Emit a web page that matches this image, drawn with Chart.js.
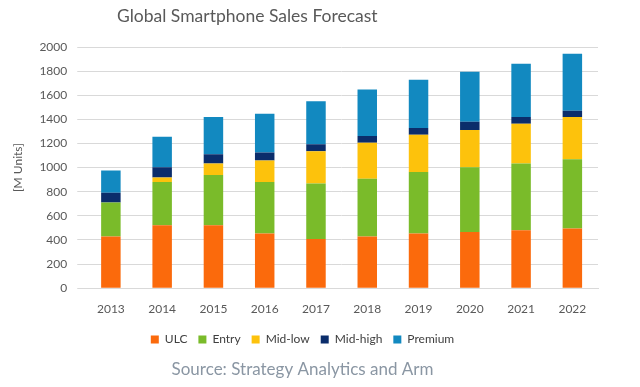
<!DOCTYPE html>
<html>
<head>
<meta charset="utf-8">
<script src="https://cdn.jsdelivr.net/npm/chart.js@4.4.1/dist/chart.umd.min.js"></script>
<style>
  body { margin: 0; background: #fff; }
  #wrap { position: relative; width: 640px; height: 387px; }
  #title { position: absolute; top: 5px; left: 117px; font: 17.5px Lato, sans-serif; color: #595959; white-space: nowrap; }
</style>
</head>
<body>
<div id="wrap">
  <div id="title">Global Smartphone Sales Forecast</div>
  <canvas id="chart" width="640" height="387"></canvas>
</div>
<script>
// values, millions of units
let years = ["2013", "2014", "2015", "2016", "2017", "2018", "2019", "2020", "2021", "2022"];
let ulc = [428, 522, 522, 453, 408, 428, 453, 467, 481, 494];
let entry = [283, 359, 417, 428, 461, 480, 511, 536, 552, 575];
let midLow = [0, 36, 94, 177, 267, 298, 308, 308, 331, 350];
let midHigh = [81, 86, 78, 67, 58, 55, 56, 70, 55, 53];
let premium = [183, 253, 308, 322, 356, 386, 400, 413, 442, 472];
let yTicks = [0, 200, 400, 600, 800, 1000, 1200, 1400, 1600, 1800, 2000];

function set(label, data, color) {
    return {
        label: label,
        data: data,
        backgroundColor: color,
        barPercentage: 0.38,
        categoryPercentage: 1
    };
}

const config = {
    type: 'bar',
    data: {
        labels: years,
        datasets: [
            set("ULC", ulc, '#fb6a0c'),
            set("Entry", entry, '#7abb2a'),
            set("Mid-low", midLow, '#fdc20c'),
            set("Mid-high", midHigh, '#0b2d6b'),
            set("Premium", premium, '#1289c0')
        ]
    },
    options: {
        responsive: false,
        animation: false,
        layout: { padding: { top: 47, left: 7, right: 42, bottom: 7 } },
        plugins: {
            tooltip: { enabled: false },
            legend: {
                position: 'bottom',
                labels: {
                    boxWidth: 8,
                    boxHeight: 8,
                    padding: 11,
                    color: '#404040',
                    font: { family: 'Lato', size: 12 }
                }
            },
            subtitle: {
                display: true,
                position: 'bottom',
                text: 'Source: Strategy Analytics and Arm',
                color: '#8a96a3',
                font: { family: 'Lato', size: 17 },
                padding: { top: 4, bottom: 0 }
            }
        },
        scales: {
            x: {
                stacked: true,
                grid: { display: false },
                border: { color: '#d9d9d9' },
                ticks: { color: '#595959', font: { family: 'Lato', size: 12 }, padding: 6 }
            },
            y: {
                stacked: true,
                min: 0,
                max: 2000,
                afterBuildTicks: function(axis) {
                    axis.ticks = yTicks.map(v => ({ value: v }));
                },
                grid: { color: '#d9d9d9' },
                border: { display: false },
                ticks: {
                    color: '#595959',
                    font: { family: 'Lato', size: 12 },
                    padding: 10,
                    callback: v => String(v)
                },
                title: {
                    display: true,
                    text: '[M Units]',
                    color: '#595959',
                    font: { family: 'Lato', size: 12 }
                }
            }
        }
    }
};

const chart1 = new Chart(document.getElementById("chart"), config);
</script>
</body>
</html>
